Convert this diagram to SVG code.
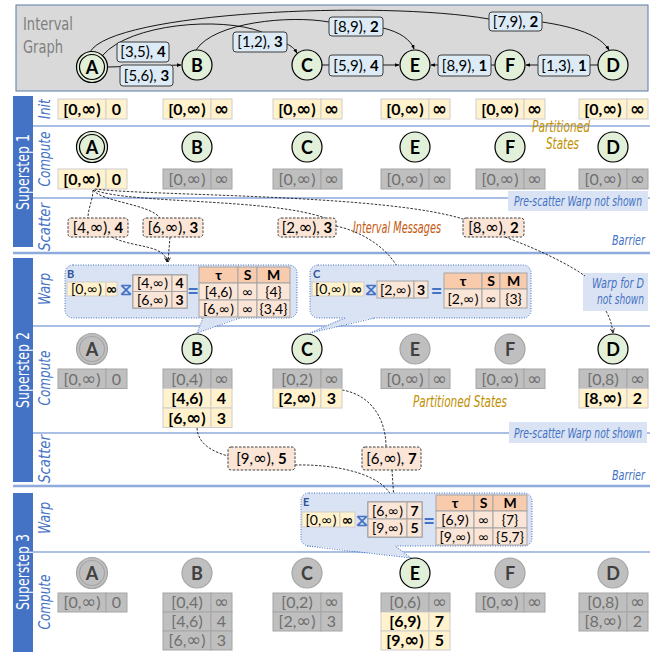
<svg xmlns="http://www.w3.org/2000/svg" width="660" height="652" viewBox="0 0 660 652">
<defs>
<marker id="ah" viewBox="0 0 10 10" refX="9" refY="5" markerWidth="5" markerHeight="5" orient="auto"><path d="M0,1 L10,5 L0,9 z" fill="#000"/></marker>
<marker id="ao" viewBox="0 0 10 10" refX="9" refY="5" markerWidth="7" markerHeight="7" orient="auto"><path d="M1,1.5 L9,5 L1,8.5" fill="none" stroke="#000" stroke-width="1.4"/></marker>
<style>
.i{font-family:'DejaVu Sans',sans-serif;font-size:1.12em}
.ts .i,.tsb .i{font-size:1em}
.y{fill:#fff2cc;stroke:#d0cece;stroke-width:1}
.g{fill:#bfbfbf;stroke:#a5a5a5;stroke-width:1}
.o{fill:#fbe5d6;stroke:#a5a5a5;stroke-width:1}
.h{fill:#f8cbad;stroke:#a5a5a5;stroke-width:1}
.tb{font-family:Lato,'Open Sans','DejaVu Sans',sans-serif;font-size:16px;font-weight:700;fill:#000;text-anchor:middle}
.tg{font-family:Lato,'Open Sans','DejaVu Sans',sans-serif;font-size:16px;fill:#6f6f6f;text-anchor:middle}
.ts{font-family:Lato,'Open Sans','DejaVu Sans',sans-serif;font-size:14px;fill:#000;text-anchor:middle}
.tsb{font-family:Lato,'Open Sans','DejaVu Sans',sans-serif;font-size:14px;font-weight:700;fill:#000;text-anchor:middle}
.lbl{fill:#ddebf7;stroke:#3b3b3b;stroke-width:1}
.et{font-family:Lato,'Open Sans','DejaVu Sans',sans-serif;font-size:15px;fill:#000;text-anchor:middle}
.ng{fill:#e2f0d9;stroke:#000;stroke-width:1.2}
.nx{fill:#bfbfbf;stroke:#a5a5a5;stroke-width:1.2}
.nt{font-family:Lato,'Open Sans','DejaVu Sans',sans-serif;font-size:18px;font-weight:700;fill:#000;text-anchor:middle}
.nxt{font-family:Lato,'Open Sans','DejaVu Sans',sans-serif;font-size:18px;font-weight:700;fill:#404040;text-anchor:middle}
.msg{fill:#fbe5d6;stroke:#404040;stroke-width:1;stroke-dasharray:2.5,1.5}
.warp{fill:#dae3f3;stroke:#4472c4;stroke-width:1;stroke-dasharray:1,1.5}
.wl{font-family:Lato,'Open Sans','DejaVu Sans',sans-serif;font-size:11px;font-weight:700;fill:#2f5597}
.hg{font-family:'DejaVu Sans',sans-serif;font-size:17px;font-weight:700;fill:#4472c4;text-anchor:middle}
.eq{font-family:Lato,'Open Sans','DejaVu Sans',sans-serif;font-size:20px;font-weight:700;fill:#4472c4;text-anchor:middle}
.ig{font-family:'DejaVu Sans Condensed','DejaVu Sans',sans-serif;font-stretch:condensed;font-size:17px;fill:#7f7f7f}
.sl{font-family:'DejaVu Sans Condensed','DejaVu Sans',sans-serif;font-stretch:condensed;font-style:italic;font-size:15px;fill:#4472c4;text-anchor:middle}
.ss{font-family:'DejaVu Sans Condensed','DejaVu Sans',sans-serif;font-stretch:condensed;font-size:17px;fill:#fff;text-anchor:middle}
.note{fill:#dae3f3}
.nlt{font-family:'DejaVu Sans Condensed','DejaVu Sans',sans-serif;font-stretch:condensed;font-style:italic;font-size:14px;fill:#4472c4}
.ps{font-family:'DejaVu Sans Condensed','DejaVu Sans',sans-serif;font-stretch:condensed;font-style:italic;font-size:15px;fill:#bf9000}
.im{font-family:'DejaVu Sans Condensed','DejaVu Sans',sans-serif;font-stretch:condensed;font-style:italic;font-size:15px;fill:#c55a11}
.il{stroke:#8faadc;stroke-width:1.5}
.bl{stroke:#8faadc;stroke-width:2.5}
.e{fill:none;stroke:#000;stroke-width:0.9}
.d{fill:none;stroke:#000;stroke-width:0.8;stroke-dasharray:2.5,1.5}
</style>
</defs>
<rect width="660" height="652" fill="#fff"/>

<!-- Interval graph panel -->
<g id="interval-graph">
<rect x="16" y="5" width="632" height="86" fill="#d9d9d9" stroke="#5b7ba8" stroke-width="1"/>
<text class="ig" x="23" y="30" textLength="50" lengthAdjust="spacingAndGlyphs">Interval</text>
<text class="ig" x="23" y="53" textLength="40" lengthAdjust="spacingAndGlyphs">Graph</text>
</g>

<g id="graph-connectors">
<path class="e" d="M90,52 C112,12 380,0 489,19"/>
<path class="e" d="M542,22 C575,27 600,35 609,50" marker-end="url(#ah)"/>
<path class="e" d="M196,50 C214,22 290,15 329,22"/>
<path class="e" d="M383,28 C400,32 411,40 414,49" marker-end="url(#ah)"/>
<path class="e" d="M103,55 C130,24 220,16 262,32"/>
<path class="e" d="M287,44 C291,46 294,48 297,53" marker-end="url(#ah)"/>
<path class="e" d="M108,67 L181,65" marker-end="url(#ah)"/>
<path class="e" d="M322,65 L399,65" marker-end="url(#ah)"/>
<path class="e" d="M495,65 L431,65" marker-end="url(#ah)"/>
<path class="e" d="M598,65 L526,65" marker-end="url(#ah)"/>
<rect class="lbl" x="117" y="42" width="52" height="20" rx="3"/><text class="et" x="143" y="57">[3,5), <tspan font-weight="700">4</tspan></text>
<rect class="lbl" x="120" y="65" width="53" height="21" rx="3"/><text class="et" x="146.5" y="81">[5,6), <tspan font-weight="700">3</tspan></text>
<rect class="lbl" x="233" y="32" width="54" height="20" rx="3"/><text class="et" x="260" y="47">[1,2), <tspan font-weight="700">3</tspan></text>
<rect class="lbl" x="329" y="17" width="54" height="19" rx="3"/><text class="et" x="356" y="31.5">[8,9), <tspan font-weight="700">2</tspan></text>
<rect class="lbl" x="489" y="12" width="53" height="19" rx="3"/><text class="et" x="515.5" y="26.5">[7,9), <tspan font-weight="700">2</tspan></text>
<rect class="lbl" x="329" y="55" width="54" height="21" rx="3"/><text class="et" x="356" y="70.5">[5,9), <tspan font-weight="700">4</tspan></text>
<rect class="lbl" x="438" y="55" width="53" height="21" rx="3"/><text class="et" x="464.5" y="70.5">[8,9), <tspan font-weight="700">1</tspan></text>
<rect class="lbl" x="538" y="55" width="52" height="21" rx="3"/><text class="et" x="564" y="70.5">[1,3), <tspan font-weight="700">1</tspan></text>
</g>

<g id="gA"><circle class="ng" cx="92" cy="67" r="15.5"/><circle class="ng" cx="92" cy="67" r="12.5"/><text class="nt" x="92" y="73.5">A</text></g>
<g id="gB"><circle class="ng" cx="197" cy="65" r="15"/><text class="nt" x="197" y="71.5">B</text></g>
<g id="gC"><circle class="ng" cx="307" cy="65" r="15"/><text class="nt" x="307" y="71.5">C</text></g>
<g id="gE"><circle class="ng" cx="415" cy="65" r="15"/><text class="nt" x="415" y="71.5">E</text></g>
<g id="gF"><circle class="ng" cx="510" cy="65" r="15"/><text class="nt" x="510" y="71.5">F</text></g>
<g id="gD"><circle class="ng" cx="613" cy="65" r="15"/><text class="nt" x="613" y="71.5">D</text></g>

<!-- superstep bars and lines -->
<g id="frame">
<rect x="13" y="96" width="20" height="151" fill="#4472c4"/>
<rect x="13" y="258" width="20" height="224" fill="#4472c4"/>
<rect x="13" y="493" width="20" height="159" fill="#4472c4"/>
<text class="ss" transform="translate(29,172) rotate(-90)" textLength="76" lengthAdjust="spacingAndGlyphs">Superstep 1</text>
<text class="ss" transform="translate(29,370) rotate(-90)" textLength="76" lengthAdjust="spacingAndGlyphs">Superstep 2</text>
<text class="ss" transform="translate(29,572) rotate(-90)" textLength="76" lengthAdjust="spacingAndGlyphs">Superstep 3</text>
<text class="sl" transform="translate(50,109) rotate(-90)" textLength="20" lengthAdjust="spacingAndGlyphs">Init</text>
<text class="sl" transform="translate(50,159) rotate(-90)" textLength="55" lengthAdjust="spacingAndGlyphs">Compute</text>
<text class="sl" transform="translate(50,227) rotate(-90)" textLength="48" lengthAdjust="spacingAndGlyphs">Scatter</text>
<text class="sl" transform="translate(50,289) rotate(-90)" textLength="32" lengthAdjust="spacingAndGlyphs">Warp</text>
<text class="sl" transform="translate(50,378) rotate(-90)" textLength="55" lengthAdjust="spacingAndGlyphs">Compute</text>
<text class="sl" transform="translate(50,459) rotate(-90)" textLength="48" lengthAdjust="spacingAndGlyphs">Scatter</text>
<text class="sl" transform="translate(50,518) rotate(-90)" textLength="32" lengthAdjust="spacingAndGlyphs">Warp</text>
<text class="sl" transform="translate(50,602) rotate(-90)" textLength="55" lengthAdjust="spacingAndGlyphs">Compute</text>
<line class="il" x1="33" y1="126" x2="650" y2="126"/>
<line class="il" x1="33" y1="198" x2="650" y2="198"/>
<line class="bl" x1="13" y1="253" x2="650" y2="253"/>
<line class="il" x1="33" y1="326" x2="650" y2="326"/>
<line class="il" x1="33" y1="433" x2="650" y2="433"/>
<line class="bl" x1="13" y1="486" x2="650" y2="486"/>
<line class="il" x1="33" y1="552" x2="650" y2="552"/>
</g>

<!-- notes -->
<g id="notes">
<text class="ps" x="532" y="132" font-size="14" textLength="58" lengthAdjust="spacingAndGlyphs">Partitioned</text>
<text class="ps" x="546" y="149" font-size="14" textLength="33" lengthAdjust="spacingAndGlyphs">States</text>
<rect class="note" x="508" y="191" width="140" height="20"/>
<text class="nlt" x="514" y="206" textLength="128" lengthAdjust="spacingAndGlyphs">Pre-scatter Warp not shown</text>
<text class="im" x="353" y="233" textLength="88" lengthAdjust="spacingAndGlyphs">Interval Messages</text>
<text class="nlt" x="645" y="245" text-anchor="end" font-size="15" textLength="33" lengthAdjust="spacingAndGlyphs">Barrier</text>
<rect class="note" x="583" y="273" width="65" height="38"/>
<text class="nlt" x="644" y="288" text-anchor="end" textLength="52" lengthAdjust="spacingAndGlyphs">Warp for D</text>
<text class="nlt" x="644" y="304" text-anchor="end" textLength="47" lengthAdjust="spacingAndGlyphs">not shown</text>
<text class="ps" x="413" y="407" textLength="94" lengthAdjust="spacingAndGlyphs">Partitioned States</text>
<rect class="note" x="509" y="422" width="138" height="21"/>
<text class="nlt" x="514" y="438" textLength="128" lengthAdjust="spacingAndGlyphs">Pre-scatter Warp not shown</text>
<text class="nlt" x="645" y="480" text-anchor="end" font-size="15" textLength="33" lengthAdjust="spacingAndGlyphs">Barrier</text>
</g>

<!-- Superstep 1 Init -->
<g id="s1-init">
<rect class="y" x="58" y="99" width="48" height="20"/><rect class="y" x="106" y="99" width="21" height="20"/><text class="tb" x="82" y="115">[0,<tspan class="i">∞</tspan>)</text><text class="tb" x="116.5" y="115">0</text>
<rect class="y" x="163" y="99" width="48" height="20"/><rect class="y" x="211" y="99" width="21" height="20"/><text class="tb" x="187" y="115">[0,<tspan class="i">∞</tspan>)</text><text class="tb" x="221.5" y="115"><tspan class="i">∞</tspan></text>
<rect class="y" x="273" y="99" width="48" height="20"/><rect class="y" x="321" y="99" width="21" height="20"/><text class="tb" x="297" y="115">[0,<tspan class="i">∞</tspan>)</text><text class="tb" x="331.5" y="115"><tspan class="i">∞</tspan></text>
<rect class="y" x="381" y="99" width="48" height="20"/><rect class="y" x="429" y="99" width="21" height="20"/><text class="tb" x="405" y="115">[0,<tspan class="i">∞</tspan>)</text><text class="tb" x="439.5" y="115"><tspan class="i">∞</tspan></text>
<rect class="y" x="476" y="99" width="48" height="20"/><rect class="y" x="524" y="99" width="21" height="20"/><text class="tb" x="500" y="115">[0,<tspan class="i">∞</tspan>)</text><text class="tb" x="534.5" y="115"><tspan class="i">∞</tspan></text>
<rect class="y" x="579" y="99" width="48" height="20"/><rect class="y" x="627" y="99" width="21" height="20"/><text class="tb" x="603" y="115">[0,<tspan class="i">∞</tspan>)</text><text class="tb" x="637.5" y="115"><tspan class="i">∞</tspan></text>
</g>

<!-- Superstep 1 Compute -->
<g id="s1-A"><circle class="ng" cx="92" cy="147" r="15.5"/><circle class="ng" cx="92" cy="147" r="12.5"/><text class="nt" x="92" y="153.5">A</text>
<rect class="y" x="58" y="169" width="48" height="20"/><rect class="y" x="106" y="169" width="21" height="20"/><text class="tb" x="82" y="185">[0,<tspan class="i">∞</tspan>)</text><text class="tb" x="116.5" y="185">0</text></g>
<g id="s1-B"><circle class="ng" cx="197" cy="147" r="15"/><text class="nt" x="197" y="153.5">B</text>
<rect class="g" x="163" y="169" width="48" height="20"/><rect class="g" x="211" y="169" width="21" height="20"/><text class="tg" x="187" y="185">[0,<tspan class="i">∞</tspan>)</text><text class="tg" x="221.5" y="185"><tspan class="i">∞</tspan></text></g>
<g id="s1-C"><circle class="ng" cx="307" cy="147" r="15"/><text class="nt" x="307" y="153.5">C</text>
<rect class="g" x="273" y="169" width="48" height="20"/><rect class="g" x="321" y="169" width="21" height="20"/><text class="tg" x="297" y="185">[0,<tspan class="i">∞</tspan>)</text><text class="tg" x="331.5" y="185"><tspan class="i">∞</tspan></text></g>
<g id="s1-E"><circle class="ng" cx="415" cy="147" r="15"/><text class="nt" x="415" y="153.5">E</text>
<rect class="g" x="381" y="169" width="48" height="20"/><rect class="g" x="429" y="169" width="21" height="20"/><text class="tg" x="405" y="185">[0,<tspan class="i">∞</tspan>)</text><text class="tg" x="439.5" y="185"><tspan class="i">∞</tspan></text></g>
<g id="s1-F"><circle class="ng" cx="510" cy="147" r="15"/><text class="nt" x="510" y="153.5">F</text>
<rect class="g" x="476" y="169" width="48" height="20"/><rect class="g" x="524" y="169" width="21" height="20"/><text class="tg" x="500" y="185">[0,<tspan class="i">∞</tspan>)</text><text class="tg" x="534.5" y="185"><tspan class="i">∞</tspan></text></g>
<g id="s1-D"><circle class="ng" cx="613" cy="147" r="15"/><text class="nt" x="613" y="153.5">D</text>
<rect class="g" x="579" y="169" width="48" height="20"/><rect class="g" x="627" y="169" width="21" height="20"/><text class="tg" x="603" y="185">[0,<tspan class="i">∞</tspan>)</text><text class="tg" x="637.5" y="185"><tspan class="i">∞</tspan></text></g>

<!-- connectors -->
<g id="connectors">
<path class="d" d="M93,190 C93,200 88,208 88,218"/>
<path class="d" d="M93,190 C102,202 150,204 160,218"/>
<path class="d" d="M94,190 C130,204 270,198 325,218"/>
<path class="d" d="M95,189 C150,196 390,194 466,220"/>
<path class="d" d="M112,237 C132,248 165,244 167,262" marker-end="url(#ao)"/>
<path class="d" d="M170,237 L168,262" marker-end="url(#ao)"/>
<path class="d" d="M336,226 C364,232 396,252 403,281" marker-end="url(#ao)"/>
<path class="d" d="M505,237 C540,250 570,265 585,276"/>
<path class="d" d="M606,311 C610,318 612,325 613,333" marker-end="url(#ao)"/>
<path class="d" d="M197,428 C198,445 214,452 228,456"/>
<path class="d" d="M342,390 C372,395 386,420 386,447"/>
<path class="d" d="M295,465 C342,464 386,476 393,500" marker-end="url(#ao)"/>
<path class="d" d="M392,470 L394,500" marker-end="url(#ao)"/>
</g>

<!-- Superstep 1 scatter messages -->
<g id="s1-msgs">
<rect class="msg" x="68" y="218" width="60" height="19" rx="3"/><text class="et" x="98" y="233">[4,<tspan class="i">∞</tspan>), <tspan font-weight="700">4</tspan></text>
<rect class="msg" x="143" y="218" width="60" height="19" rx="3"/><text class="et" x="173" y="233">[6,<tspan class="i">∞</tspan>), <tspan font-weight="700">3</tspan></text>
<rect class="msg" x="278" y="218" width="58" height="19" rx="3"/><text class="et" x="307" y="233">[2,<tspan class="i">∞</tspan>), <tspan font-weight="700">3</tspan></text>
<rect class="msg" x="463" y="218" width="61" height="19" rx="3"/><text class="et" x="493.5" y="233">[8,<tspan class="i">∞</tspan>), <tspan font-weight="700">2</tspan></text>
</g>

<!-- Superstep 2 warp B -->
<g id="s2-warp-B">
<rect class="warp" x="65" y="265" width="232" height="53" rx="8"/>
<polygon points="203,317 240,317 197,333" fill="#dae3f3"/>
<polyline points="203,318 197,333 240,318" fill="none" stroke="#4472c4" stroke-width="1" stroke-dasharray="1,1.5"/>
<text class="wl" x="67" y="278">B</text>
<rect class="y" x="67" y="282" width="39" height="14"/><rect class="y" x="106" y="282" width="11" height="14"/>
<text class="ts" x="86.5" y="294">[0,<tspan class="i">∞</tspan>)</text><text class="tsb" x="111.5" y="294"><tspan class="i">∞</tspan></text>
<text class="hg" x="126" y="295">⧖</text>
<rect x="133" y="275" width="54" height="33" fill="none" stroke="#7f7f7f"/>
<rect class="o" x="133" y="275" width="39" height="16.5"/><rect class="o" x="172" y="275" width="15" height="16.5"/>
<rect class="o" x="133" y="291.5" width="39" height="16.5"/><rect class="o" x="172" y="291.5" width="15" height="16.5"/>
<text class="ts" x="152.5" y="288">[4,<tspan class="i">∞</tspan>)</text><text class="tsb" x="179.5" y="288">4</text>
<text class="ts" x="152.5" y="304.5">[6,<tspan class="i">∞</tspan>)</text><text class="tsb" x="179.5" y="304.5">3</text>
<text class="eq" x="193" y="298">=</text>
<rect class="h" x="199" y="267" width="39" height="16"/><rect class="h" x="238" y="267" width="19" height="16"/><rect class="h" x="257" y="267" width="33" height="16"/>
<text class="tsb" x="218.5" y="280">τ</text><text class="tsb" x="247.5" y="280">S</text><text class="tsb" x="273.5" y="280">M</text>
<rect class="o" x="199" y="283" width="39" height="17"/><rect class="o" x="238" y="283" width="19" height="17"/><rect class="o" x="257" y="283" width="33" height="17"/>
<text class="ts" x="218.5" y="296.5">[4,6)</text><text class="ts" x="247.5" y="296.5"><tspan class="i">∞</tspan></text><text class="ts" x="273.5" y="296.5">{4}</text>
<rect class="o" x="199" y="300" width="39" height="17"/><rect class="o" x="238" y="300" width="19" height="17"/><rect class="o" x="257" y="300" width="33" height="17"/>
<text class="ts" x="218.5" y="313.5">[6,<tspan class="i">∞</tspan>)</text><text class="ts" x="247.5" y="313.5"><tspan class="i">∞</tspan></text><text class="ts" x="273.5" y="313.5">{3,4}</text>
</g>

<!-- Superstep 2 warp C -->
<g id="s2-warp-C">
<rect class="warp" x="310" y="265" width="221" height="53" rx="8"/>
<polygon points="345,317 375,317 310,333" fill="#dae3f3"/>
<polyline points="345,318 310,333 375,318" fill="none" stroke="#4472c4" stroke-width="1" stroke-dasharray="1,1.5"/>
<text class="wl" x="313" y="278">C</text>
<rect class="y" x="312" y="282" width="37" height="14"/><rect class="y" x="349" y="282" width="15" height="14"/>
<text class="ts" x="330.5" y="294">[0,<tspan class="i">∞</tspan>)</text><text class="tsb" x="356.5" y="294"><tspan class="i">∞</tspan></text>
<text class="hg" x="370.5" y="295">⧖</text>
<rect class="o" x="377" y="281" width="37" height="17"/><rect class="o" x="414" y="281" width="14" height="17"/>
<text class="ts" x="395.5" y="294.5">[2,<tspan class="i">∞</tspan>)</text><text class="tsb" x="421" y="294.5">3</text>
<text class="eq" x="436.5" y="298">=</text>
<rect class="h" x="444" y="273" width="38" height="16"/><rect class="h" x="482" y="273" width="18" height="16"/><rect class="h" x="500" y="273" width="27" height="16"/>
<text class="tsb" x="463" y="286">τ</text><text class="tsb" x="491" y="286">S</text><text class="tsb" x="513.5" y="286">M</text>
<rect class="o" x="444" y="289" width="38" height="19"/><rect class="o" x="482" y="289" width="18" height="19"/><rect class="o" x="500" y="289" width="27" height="19"/>
<text class="ts" x="463" y="303.5">[2,<tspan class="i">∞</tspan>)</text><text class="ts" x="491" y="303.5"><tspan class="i">∞</tspan></text><text class="ts" x="513.5" y="303.5">{3}</text>
</g>

<!-- Superstep 2 compute -->
<g id="s2-A"><circle class="nx" cx="92" cy="349" r="15.5"/><circle class="nx" cx="92" cy="349" r="12.5"/><text class="nxt" x="92" y="355.5">A</text>
<rect class="g" x="58" y="369" width="48" height="19.5"/><rect class="g" x="106" y="369" width="21" height="19.5"/><text class="tg" x="82" y="384.5">[0,<tspan class="i">∞</tspan>)</text><text class="tg" x="116.5" y="384.5">0</text></g>
<g id="s2-B"><circle class="ng" cx="197" cy="349" r="15"/><text class="nt" x="197" y="355.5">B</text>
<rect class="g" x="163" y="369" width="48" height="19.5"/><rect class="g" x="211" y="369" width="21" height="19.5"/><text class="tg" x="187" y="384.5">[0,4)</text><text class="tg" x="221.5" y="384.5"><tspan class="i">∞</tspan></text>
<rect class="y" x="163" y="388.5" width="48" height="19.5"/><rect class="y" x="211" y="388.5" width="21" height="19.5"/><text class="tb" x="187" y="404">[4,6)</text><text class="tb" x="221.5" y="404">4</text>
<rect class="y" x="163" y="408" width="48" height="19.5"/><rect class="y" x="211" y="408" width="21" height="19.5"/><text class="tb" x="187" y="423.5">[6,<tspan class="i">∞</tspan>)</text><text class="tb" x="221.5" y="423.5">3</text></g>
<g id="s2-C"><circle class="ng" cx="307" cy="349" r="15"/><text class="nt" x="307" y="355.5">C</text>
<rect class="g" x="273" y="369" width="48" height="19.5"/><rect class="g" x="321" y="369" width="21" height="19.5"/><text class="tg" x="297" y="384.5">[0,2)</text><text class="tg" x="331.5" y="384.5"><tspan class="i">∞</tspan></text>
<rect class="y" x="273" y="388.5" width="48" height="19.5"/><rect class="y" x="321" y="388.5" width="21" height="19.5"/><text class="tb" x="297" y="404">[2,<tspan class="i">∞</tspan>)</text><text class="tb" x="331.5" y="404">3</text></g>
<g id="s2-E"><circle class="nx" cx="415" cy="349" r="15"/><text class="nxt" x="415" y="355.5">E</text>
<rect class="g" x="381" y="369" width="48" height="19.5"/><rect class="g" x="429" y="369" width="21" height="19.5"/><text class="tg" x="405" y="384.5">[0,<tspan class="i">∞</tspan>)</text><text class="tg" x="439.5" y="384.5"><tspan class="i">∞</tspan></text></g>
<g id="s2-F"><circle class="nx" cx="510" cy="349" r="15"/><text class="nxt" x="510" y="355.5">F</text>
<rect class="g" x="476" y="369" width="48" height="19.5"/><rect class="g" x="524" y="369" width="21" height="19.5"/><text class="tg" x="500" y="384.5">[0,<tspan class="i">∞</tspan>)</text><text class="tg" x="534.5" y="384.5"><tspan class="i">∞</tspan></text></g>
<g id="s2-D"><circle class="ng" cx="613" cy="349" r="15"/><text class="nt" x="613" y="355.5">D</text>
<rect class="g" x="579" y="369" width="48" height="19.5"/><rect class="g" x="627" y="369" width="21" height="19.5"/><text class="tg" x="603" y="384.5">[0,8)</text><text class="tg" x="637.5" y="384.5"><tspan class="i">∞</tspan></text>
<rect class="y" x="579" y="388.5" width="48" height="19.5"/><rect class="y" x="627" y="388.5" width="21" height="19.5"/><text class="tb" x="603" y="404">[8,<tspan class="i">∞</tspan>)</text><text class="tb" x="637.5" y="404">2</text></g>

<!-- Superstep 2 scatter messages -->
<g id="s2-msgs">
<rect class="msg" x="228" y="447" width="67" height="23" rx="3"/><text class="et" x="261.5" y="464" font-size="16">[9,<tspan class="i">∞</tspan>), <tspan font-weight="700">5</tspan></text>
<rect class="msg" x="362" y="447" width="59" height="23" rx="3"/><text class="et" x="391.5" y="464" font-size="16">[6,<tspan class="i">∞</tspan>), <tspan font-weight="700">7</tspan></text>
</g>

<!-- Superstep 3 warp E -->
<g id="s3-warp-E">
<rect class="warp" x="301" y="493" width="231" height="53" rx="8"/>
<polygon points="307,545 395,545 411,558" fill="#dae3f3"/>
<polyline points="307,546 411,558 395,546" fill="none" stroke="#4472c4" stroke-width="1" stroke-dasharray="1,1.5"/>
<text class="wl" x="303" y="506">E</text>
<rect class="y" x="302" y="512" width="38" height="15"/><rect class="y" x="340" y="512" width="15" height="15"/>
<text class="ts" x="321" y="524.5">[0,<tspan class="i">∞</tspan>)</text><text class="tsb" x="347.5" y="524.5"><tspan class="i">∞</tspan></text>
<text class="hg" x="361.5" y="525.5">⧖</text>
<rect x="368" y="502" width="54" height="35" fill="none" stroke="#7f7f7f"/>
<rect class="o" x="368" y="502" width="39" height="17"/><rect class="o" x="407" y="502" width="15" height="17"/>
<rect class="o" x="368" y="519" width="39" height="18"/><rect class="o" x="407" y="519" width="15" height="18"/>
<text class="ts" x="387.5" y="515.5">[6,<tspan class="i">∞</tspan>)</text><text class="tsb" x="414.5" y="515.5">7</text>
<text class="ts" x="387.5" y="533">[9,<tspan class="i">∞</tspan>)</text><text class="tsb" x="414.5" y="533">5</text>
<text class="eq" x="429" y="528">=</text>
<rect class="h" x="436" y="495" width="38" height="16"/><rect class="h" x="474" y="495" width="19" height="16"/><rect class="h" x="493" y="495" width="34" height="16"/>
<text class="tsb" x="455" y="508">τ</text><text class="tsb" x="483.5" y="508">S</text><text class="tsb" x="510" y="508">M</text>
<rect class="o" x="436" y="511" width="38" height="17"/><rect class="o" x="474" y="511" width="19" height="17"/><rect class="o" x="493" y="511" width="34" height="17"/>
<text class="ts" x="455" y="524.5">[6,9)</text><text class="ts" x="483.5" y="524.5"><tspan class="i">∞</tspan></text><text class="ts" x="510" y="524.5">{7}</text>
<rect class="o" x="436" y="528" width="38" height="17"/><rect class="o" x="474" y="528" width="19" height="17"/><rect class="o" x="493" y="528" width="34" height="17"/>
<text class="ts" x="455" y="541.5">[9,<tspan class="i">∞</tspan>)</text><text class="ts" x="483.5" y="541.5"><tspan class="i">∞</tspan></text><text class="ts" x="510" y="541.5">{5,7}</text>
</g>

<!-- Superstep 3 compute -->
<g id="s3-A"><circle class="nx" cx="92" cy="573" r="15.5"/><circle class="nx" cx="92" cy="573" r="12.5"/><text class="nxt" x="92" y="579.5">A</text>
<rect class="g" x="58" y="593" width="48" height="19"/><rect class="g" x="106" y="593" width="21" height="19"/><text class="tg" x="82" y="608">[0,<tspan class="i">∞</tspan>)</text><text class="tg" x="116.5" y="608">0</text></g>
<g id="s3-B"><circle class="nx" cx="197" cy="573" r="15"/><text class="nxt" x="197" y="579.5">B</text>
<rect class="g" x="163" y="593" width="48" height="19"/><rect class="g" x="211" y="593" width="21" height="19"/><text class="tg" x="187" y="608">[0,4)</text><text class="tg" x="221.5" y="608"><tspan class="i">∞</tspan></text>
<rect class="g" x="163" y="612" width="48" height="19"/><rect class="g" x="211" y="612" width="21" height="19"/><text class="tg" x="187" y="627">[4,6)</text><text class="tg" x="221.5" y="627">4</text>
<rect class="g" x="163" y="631" width="48" height="19"/><rect class="g" x="211" y="631" width="21" height="19"/><text class="tg" x="187" y="646">[6,<tspan class="i">∞</tspan>)</text><text class="tg" x="221.5" y="646">3</text></g>
<g id="s3-C"><circle class="nx" cx="307" cy="573" r="15"/><text class="nxt" x="307" y="579.5">C</text>
<rect class="g" x="273" y="593" width="48" height="19"/><rect class="g" x="321" y="593" width="21" height="19"/><text class="tg" x="297" y="608">[0,2)</text><text class="tg" x="331.5" y="608"><tspan class="i">∞</tspan></text>
<rect class="g" x="273" y="612" width="48" height="19"/><rect class="g" x="321" y="612" width="21" height="19"/><text class="tg" x="297" y="627">[2,<tspan class="i">∞</tspan>)</text><text class="tg" x="331.5" y="627">3</text></g>
<g id="s3-E"><circle class="ng" cx="415" cy="573" r="15"/><text class="nt" x="415" y="579.5">E</text>
<rect class="g" x="381" y="593" width="48" height="19"/><rect class="g" x="429" y="593" width="21" height="19"/><text class="tg" x="405" y="608">[0,6)</text><text class="tg" x="439.5" y="608"><tspan class="i">∞</tspan></text>
<rect class="y" x="381" y="612" width="48" height="19"/><rect class="y" x="429" y="612" width="21" height="19"/><text class="tb" x="405" y="627">[6,9)</text><text class="tb" x="439.5" y="627">7</text>
<rect class="y" x="381" y="631" width="48" height="19"/><rect class="y" x="429" y="631" width="21" height="19"/><text class="tb" x="405" y="646">[9,<tspan class="i">∞</tspan>)</text><text class="tb" x="439.5" y="646">5</text></g>
<g id="s3-F"><circle class="nx" cx="510" cy="573" r="15"/><text class="nxt" x="510" y="579.5">F</text>
<rect class="g" x="476" y="593" width="48" height="19"/><rect class="g" x="524" y="593" width="21" height="19"/><text class="tg" x="500" y="608">[0,<tspan class="i">∞</tspan>)</text><text class="tg" x="534.5" y="608"><tspan class="i">∞</tspan></text></g>
<g id="s3-D"><circle class="nx" cx="613" cy="573" r="15"/><text class="nxt" x="613" y="579.5">D</text>
<rect class="g" x="579" y="593" width="48" height="19"/><rect class="g" x="627" y="593" width="21" height="19"/><text class="tg" x="603" y="608">[0,8)</text><text class="tg" x="637.5" y="608"><tspan class="i">∞</tspan></text>
<rect class="g" x="579" y="612" width="48" height="19"/><rect class="g" x="627" y="612" width="21" height="19"/><text class="tg" x="603" y="627">[8,<tspan class="i">∞</tspan>)</text><text class="tg" x="637.5" y="627">2</text></g>
</svg>
